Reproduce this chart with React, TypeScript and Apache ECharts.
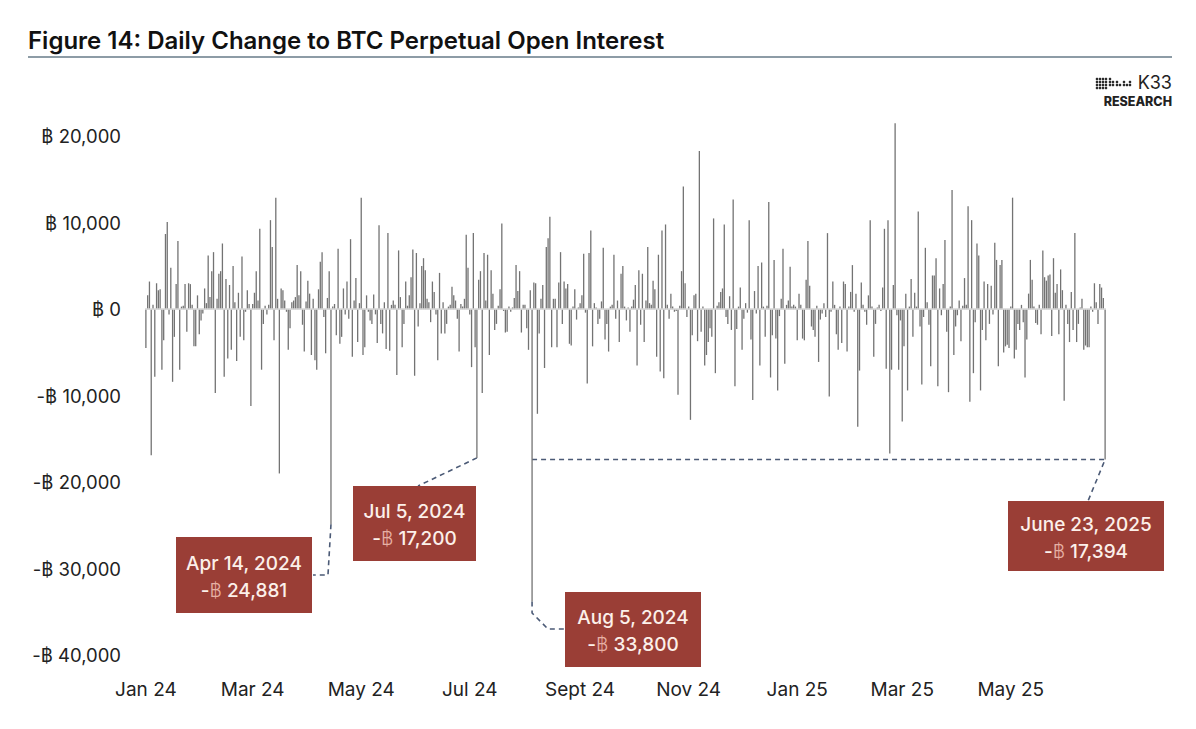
import React, { useEffect, useRef } from "react";
import * as echarts from "echarts";

// Daily change to BTC perpetual open interest (BTC)
const jan24 = [-4500, 1600, 3200, -16900, 500, -7800, 3000, 2200, 2300, -7000, -3600, 8700, 10100, -600, 4800, -8400, -3200, 2900, 7900, -7000, 300, 400, 2900, -2600, 3000, 2900, 500, -4300, -4300, 1600, -2900];
const feb24 = [-1300, -500, 2400, 700, 6200, 1400, 4400, 6600, -9700, 1200, 4100, 4400, 7600, -7800, 3500, -5700, 2800, -4700, 5000, 800, -6000, 1900, -3200, 6100, -3600, -300, 2200, 600, -11200];
const mar24 = [600, 1900, 4400, 1000, 9300, -7000, -1700, 400, -600, 500, 10300, 7200, -3600, 12900, 1200, -19000, 2400, 2200, 1000, -300, -4700, -2200, 800, 1000, 1400, 5100, 1600, 4400, -1800, -4900, 900];
const apr24 = [3300, 1800, -5300, 1200, -5900, -7000, 2300, 5500, 6600, -900, -5100, 1300, 4400, -24881, 300, 600, -3000, 7000, -4000, -3200, 2400, -600, 3200, -1100, 8100, -5500, 1000, 3600, -3800, 700];
const may24 = [12900, -5300, -4400, 1600, -300, -1300, -1700, 1700, -600, -3900, 9700, -1700, -2800, 800, -4600, 8800, -4800, 500, 1000, 500, -7600, 6800, 1400, -4400, -1700, 3200, 400, 1600, 3700, 6900, -7700];
const jun24 = [6500, -2000, 700, 5000, 5900, 4500, 1200, 800, -1500, 3200, 2000, -600, -5900, 4200, -2800, 800, -2800, -1700, 300, 500, 2600, 1600, 1000, -1100, -4900, 600, 300, 1200, 8600, 4800];
const jul24 = [-600, -6700, 8800, -4400, -17200, 3400, 4400, -9700, 6500, 1000, 6300, -5300, 4500, 1800, -2400, -1700, 400, 2300, 9900, -200, -2700, -2600, 300, -300, 200, 1300, 5100, 2100, 4400, -2700, 500];
const aug24 = [500, -2200, -4700, 2200, -33800, 3100, 3000, -12100, -2800, 1200, 2800, -6800, 7200, 8200, 10700, -4400, 1200, 1200, -4400, 3100, 6600, -1700, 3200, 2400, 2900, -4000, -4200, 300, 2300, -1200, 200];
const sep24 = [700, 1600, 6400, -400, -8600, 6500, 9100, -4300, 700, 200, -1700, -1100, 900, 7100, -3500, -1700, -4900, 300, 500, 6300, -1100, 1000, -3800, 4100, 5000, 300, -1300, 200, -2600, 300];
const oct24 = [1100, 2800, -6500, 4500, -1800, 4100, -3800, 1000, 7200, 700, 500, 3300, 2300, -5500, 6300, -7200, 9100, -8000, 9800, 500, -1100, 1800, 300, -300, -200, -9900, 400, 4400, 14200, 3000, -900];
const nov24 = [300, -12800, -3000, 1600, 1800, -3700, 18300, -2600, 300, -6500, -5300, -3800, -2200, -3200, 10500, -7400, 400, 800, 2000, 2400, 9800, -900, -1700, 1500, -2400, 12700, -8900, -2300, 300, 2500];
const dec24 = [-4700, -1100, 700, -400, 10300, -3500, -10500, 2100, -500, 5000, -6500, 5400, 300, -3200, 400, 12400, -7900, -3000, 5700, -3400, -9400, -800, 1200, 7000, -6300, 500, 1000, 4900, 300, 500, 300];
const jan25 = [-3600, 1800, 500, -3400, -3600, 3400, 7900, 2700, -2000, -2400, -3200, 400, -6100, -1200, -500, 700, -900, 8800, -10100, -300, 3200, 500, -2900, -4700, 300, -3900, 3200, 2900, -4900, 300, 2000];
const feb25 = [5100, -300, 1800, -13600, -7100, 3100, 500, -300, -1800, 1600, 10300, 300, -5500, -1700, 200, 500, -200, 2500, 9300, -6900, 10300, -16700, -7000, 2800, 21500, -700, -7000, -1300];
const mar25 = [-13000, -4300, 1800, -9400, 300, 3500, -3200, 1900, 300, 11300, -2000, -8700, -900, 7100, 800, -1800, -6600, 3900, 3900, 5900, -8900, 2400, -700, 2900, 8000, -2600, -9600, 300, 13800, -5300, -2000];
const apr25 = [-700, 1000, -3700, 400, 3600, 500, 11900, -10700, 10300, -7400, -1500, 7600, 6200, -9400, -2400, 3200, -3600, 2900, -1700, 2700, -600, 7700, 5700, -6600, 5100, 5700, -5000, -4300, -4100, -4500];
const may25 = [300, 12900, -5700, -4700, -1700, -2400, 500, -1500, -7900, -3500, 1800, 5700, 3400, 300, -1600, -1800, 500, -2900, 6800, 3700, 3300, 3900, 4000, -3100, 5900, 1900, 2900, -2900, 4600, 2200, -10600];
const jun25 = [500, -1700, -3800, 2000, -2400, 8800, -3800, -1700, 200, 1200, -4700, -4200, -4400, -4400, 300, -300, 3000, 800, -1700, 2900, 2500, 1300, -17394];

const monthBlocks: [number, number, number[]][] = [
  [2024, 1, jan24], [2024, 2, feb24], [2024, 3, mar24], [2024, 4, apr24],
  [2024, 5, may24], [2024, 6, jun24], [2024, 7, jul24], [2024, 8, aug24],
  [2024, 9, sep24], [2024, 10, oct24], [2024, 11, nov24], [2024, 12, dec24],
  [2025, 1, jan25], [2025, 2, feb25], [2025, 3, mar25], [2025, 4, apr25],
  [2025, 5, may25], [2025, 6, jun25],
];

const monthNames = ["Jan", "Feb", "Mar", "Apr", "May", "Jun", "Jul", "Aug", "Sept", "Oct", "Nov", "Dec"];

const annotations = [
  { date: "2024-04-14", line1: "Apr 14, 2024", line2: "24,881" },
  { date: "2024-07-05", line1: "Jul 5, 2024", line2: "17,200" },
  { date: "2024-08-05", line1: "Aug 5, 2024", line2: "33,800" },
  { date: "2025-06-23", line1: "June 23, 2025", line2: "17,394" },
];

const titleText = "Figure 14: Daily Change to BTC Perpetual Open Interest";

const pad = (n: number) => (n < 10 ? "0" + n : "" + n);

export default function App() {
  const ref = useRef<HTMLDivElement>(null);

  useEffect(() => {
    const el = ref.current!;
    const chart = echarts.init(el, undefined, { renderer: "svg" });

    const dates: string[] = [];
    const values: number[] = [];
    monthBlocks.forEach(([y, m, arr]) => {
      arr.forEach((v, i) => {
        dates.push(`${y}-${pad(m)}-${pad(i + 1)}`);
        values.push(v);
      });
    });

    const FONT = "Inter, 'Noto Sans', sans-serif";

    chart.setOption({
      animation: false,
      backgroundColor: "#ffffff",
      grid: { left: 145, right: 90, top: 119, bottom: 74, containLabel: false },
      xAxis: {
        type: "category",
        data: dates,
        axisLine: { show: false },
        axisTick: { show: false },
        splitLine: { show: false },
        axisLabel: {
          interval: (idx: number, val: string) => {
            const m = parseInt(val.slice(5, 7), 10);
            return val.slice(8, 10) === "01" && m % 2 === 1;
          },
          formatter: (val: string) => {
            const m = parseInt(val.slice(5, 7), 10);
            return monthNames[m - 1] + " " + val.slice(2, 4);
          },
          margin: 25,
          color: "#222222",
          fontSize: 19,
          fontFamily: FONT,
        },
      },
      yAxis: {
        type: "value",
        min: -40000,
        max: 22000,
        interval: 10000,
        splitLine: { show: false },
        axisLine: { show: false },
        axisTick: { show: false },
        axisLabel: {
          showMaxLabel: false,
          margin: 24,
          color: "#222222",
          fontSize: 18.5,
          fontFamily: FONT,
          formatter: (v: number) =>
            (v < 0 ? "-฿ " : "฿ ") + Math.abs(v).toLocaleString("en-US"),
        },
      },
      series: [
        {
          type: "bar",
          data: values,
          barWidth: 1.3,
          itemStyle: { color: "#737373" },
          clip: false,
          markLine: {
            silent: true,
            symbol: ["none", "none"],
            label: { show: false },
            lineStyle: { color: "#d6d6d6", width: 1.5, type: "solid" },
            data: [{ yAxis: 0 }],
          },
        },
      ],
    });

    const tip = (d: string) => {
      const idx = dates.indexOf(d);
      return chart.convertToPixel({ xAxisIndex: 0, yAxisIndex: 0 }, [idx, values[idx]]) as number[];
    };
    const t1 = tip(annotations[0].date);
    const t2 = tip(annotations[1].date);
    const t3 = tip(annotations[2].date);
    const t4 = tip(annotations[3].date);

    const dash = { stroke: "#4b5a76", lineWidth: 1.6, lineDash: [5, 4], fill: null };

    const box = (a: { line1: string; line2: string }, x: number, y: number, w: number, h: number) => ({
      type: "group",
      children: [
        { type: "rect", shape: { x, y, width: w, height: h }, style: { fill: "#9a3e36" } },
        {
          type: "text",
          style: {
            text: a.line1,
            x: x + w / 2,
            y: y + h / 2 - 12,
            align: "center",
            verticalAlign: "middle",
            textAlign: "center",
            textVerticalAlign: "middle",
            fill: "#fcf0ea",
            font: `500 19px ${FONT}`,
          },
        },
        {
          type: "text",
          style: {
            text: `{a|-}{b|฿}{a| ${a.line2}}`,
            x: x + w / 2,
            y: y + h / 2 + 15,
            align: "center",
            verticalAlign: "middle",
            textAlign: "center",
            textVerticalAlign: "middle",
            rich: {
              a: { fill: "#fcf0ea", font: `500 19px ${FONT}` },
              b: { fill: "#e6b0a4", font: `300 19px ${FONT}` },
            },
          },
        },
      ],
    });

    const dots: any[] = [];
    const dotCols: [number, number[]][] = [
      [1097, [79, 82, 85, 88]], [1100, [79, 82, 85, 88]], [1103, [79, 82, 85, 88]],
      [1106, [79, 82, 85, 88]], [1110, [79, 82, 85]], [1113, [82, 85]],
      [1117, [82, 85]], [1120, [85]], [1124, [82, 85]], [1127, [85]], [1130, [82, 85]],
    ];
    dotCols.forEach(([cx, ys]) =>
      ys.forEach((cy) => dots.push({ type: "circle", shape: { cx, cy, r: 1.3 }, style: { fill: "#2a2a2a" } }))
    );

    chart.setOption({
      graphic: [
        {
          type: "text",
          style: {
            text: titleText,
            x: 28,
            y: 40,
            verticalAlign: "middle",
            textVerticalAlign: "middle",
            fill: "#111111",
            font: `600 24px ${FONT}`,
          },
        },
        { type: "line", shape: { x1: 28, y1: 57, x2: 1172, y2: 57 }, style: { stroke: "#8d9ca6", lineWidth: 2 } },
        ...dots,
        {
          type: "text",
          style: {
            text: "K33",
            x: 1172,
            y: 82,
            align: "right",
            textAlign: "right",
            verticalAlign: "middle",
            textVerticalAlign: "middle",
            fill: "#222",
            font: `400 18px ${FONT}`,
          },
        },
        {
          type: "text",
          style: {
            text: "RESEARCH",
            x: 1172,
            y: 101,
            align: "right",
            textAlign: "right",
            verticalAlign: "middle",
            textVerticalAlign: "middle",
            fill: "#222",
            font: `800 12.5px ${FONT}`,
          },
        },
        // connectors
        { type: "polyline", shape: { points: [[t1[0], t1[1]], [t1[0] - 3, 575], [313, 575]] }, style: dash },
        { type: "polyline", shape: { points: [[t2[0], t2[1]], [418, 486]] }, style: dash },
        { type: "polyline", shape: { points: [[t3[0], t3[1]], [t3[0], 613], [548, 629], [565, 629]] }, style: dash },
        { type: "polyline", shape: { points: [[t3[0], t4[1]], [t4[0], t4[1]], [1088, 501]] }, style: dash },
        box(annotations[0], 176, 537, 136, 76),
        box(annotations[1], 353, 486, 123, 75),
        box(annotations[2], 565, 592, 136, 75),
        box(annotations[3], 1008, 501, 156, 70),
      ],
    });

    return () => chart.dispose();
  }, []);

  return (
    <div
      ref={ref}
      style={{ position: "absolute", left: 0, top: 0, width: 1196, height: 729, background: "#fff" }}
    />
  );
}
